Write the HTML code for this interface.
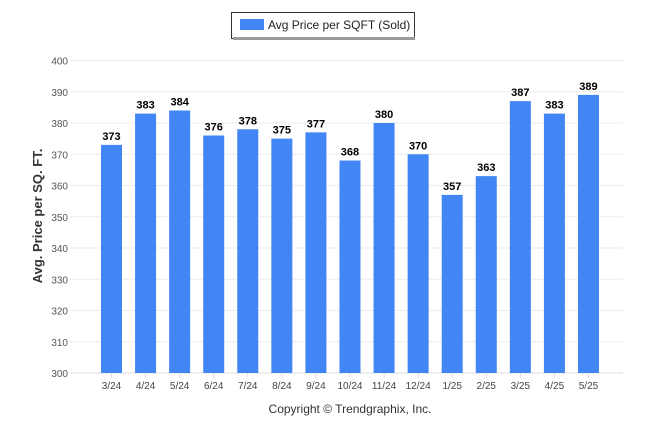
<!DOCTYPE html>
<html><head><meta charset="utf-8"><style>
body{margin:0;background:#fff;font-family:"Liberation Sans",sans-serif}
</style></head><body>
<svg width="646" height="434" viewBox="0 0 646 434" id="c">
<g>
<rect x="231.5" y="12.5" width="183" height="26" fill="#fff" stroke="#333"/>
<rect x="233" y="37" width="182" height="3" fill="#999"/>
<rect x="240" y="19" width="24" height="11" fill="#4285f4"/>
<text x="268" y="29" font-size="12" fill="#222">Avg Price per SQFT (Sold)</text>
</g>
<text transform="translate(42,216) rotate(-90)" text-anchor="middle" font-size="13" font-weight="bold" fill="#333">Avg. Price per SQ. FT.</text>
<text x="350" y="413" text-anchor="middle" font-size="12" fill="#333">Copyright © Trendgraphix, Inc.</text>
<g id="grid"></g><g id="bars"></g><g id="xl"></g>
</svg>
<script>
const categories=["3/24","4/24","5/24","6/24","7/24","8/24","9/24","10/24","11/24","12/24","1/25","2/25","3/25","4/25","5/25"];
const values=[373,383,384,376,378,375,377,368,380,370,357,363,387,383,389];
const yTicks=[300,310,320,330,340,350,360,370,380,390,400];
const ns="http://www.w3.org/2000/svg";
function y(v){return 373-(v-300)*3.125;}
function x(i){return 111.5+i*34.07;}
function mk(t,a,p){const e=document.createElementNS(ns,t);for(const k in a)e.setAttribute(k,a[k]);p.appendChild(e);return e;}
const g=document.getElementById('grid'),b=document.getElementById('bars'),xl=document.getElementById('xl');
yTicks.forEach(t=>{
 const l=mk('line',{x1:70,x2:623,y1:y(t),y2:y(t),stroke:t===300?'#ddd':'#ebebeb'},g);
 
 
 const tx=mk('text',{x:68,y:y(t)+4,'text-anchor':'end','font-size':10,fill:'#555'},g);
 tx.textContent=t;
 
 
});
categories.forEach((c,i)=>{
 const r=mk('rect',{x:x(i)-10.5,y:y(values[i]),width:21,height:y(300)-y(values[i]),fill:'#4285f4'},b);
 
 
 const v=mk('text',{x:x(i),y:y(values[i])-5,'text-anchor':'middle','font-size':11,'font-weight':'bold',fill:'#000'},b);
 v.textContent=values[i];
 
 
 const tk=mk('line',{x1:x(i),x2:x(i),y1:373,y2:378,stroke:'#ddd'},xl);
 
 
 const t=mk('text',{x:x(i),y:389,'text-anchor':'middle','font-size':10,fill:'#444'},xl);
 t.textContent=c;
 
 
});
</script>
</body></html>
